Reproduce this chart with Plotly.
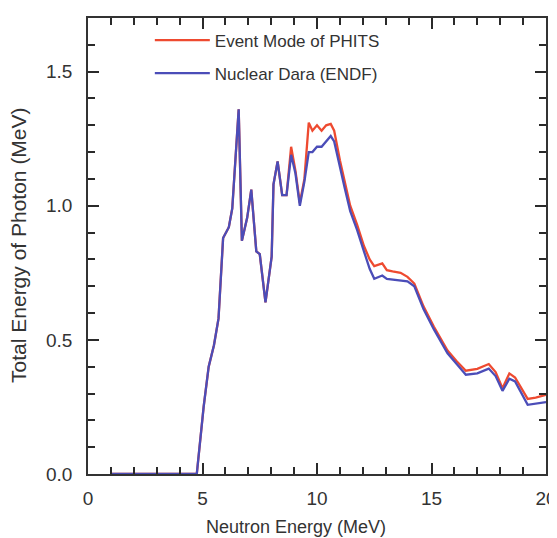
import plotly.graph_objects as go

energy = [1.0, 4.75, 5.05, 5.27, 5.5, 5.7, 5.9, 6.15, 6.3, 6.58, 6.72, 6.95, 7.13, 7.35, 7.5, 7.75,
          8.02, 8.1, 8.28, 8.48, 8.67, 8.87, 9.06, 9.25, 9.45, 9.64, 9.8, 10.0, 10.2, 10.4, 10.6,
          10.75, 11.0, 11.2, 11.45, 11.75, 12.05, 12.3, 12.5, 12.85, 13.05, 13.3, 13.65, 13.95,
          14.25, 14.65, 15.1, 15.7, 16.1, 16.5, 17.0, 17.5, 17.8, 18.1, 18.4, 18.65, 19.2, 19.55, 20.0]

phits = [0, 0, 0.25, 0.40, 0.48, 0.58, 0.88, 0.92, 0.99, 1.36, 0.87, 0.955, 1.06, 0.83, 0.82, 0.64,
         0.81, 1.08, 1.165, 1.04, 1.04, 1.22, 1.13, 1.01, 1.10, 1.31, 1.28, 1.30, 1.28, 1.30, 1.305,
         1.28, 1.17, 1.09, 1.00, 0.93, 0.85, 0.80, 0.775, 0.785, 0.76, 0.755, 0.75, 0.735,
         0.71, 0.625, 0.55, 0.46, 0.42, 0.385, 0.392, 0.41, 0.38, 0.32, 0.375, 0.36, 0.28, 0.285, 0.295]

endf = [0, 0, 0.25, 0.40, 0.48, 0.58, 0.88, 0.92, 0.99, 1.36, 0.87, 0.955, 1.06, 0.83, 0.82, 0.64,
        0.81, 1.08, 1.165, 1.04, 1.04, 1.19, 1.12, 1.00, 1.09, 1.20, 1.20, 1.22, 1.22, 1.24, 1.26,
        1.24, 1.14, 1.07, 0.98, 0.91, 0.83, 0.765, 0.728, 0.74, 0.727, 0.725, 0.72, 0.718,
        0.70, 0.615, 0.54, 0.45, 0.41, 0.37, 0.375, 0.393, 0.365, 0.31, 0.355, 0.345, 0.258, 0.262, 0.268]

x_ticks = [0, 5, 10, 15, 20]
y_ticks = [0.0, 0.5, 1.0, 1.5]
y_tick_labels = ["0.0", "0.5", "1.0", "1.5"]

font_family = "Liberation Sans, Arial, Helvetica, sans-serif"
text_color = "#333333"

fig = go.Figure()
fig.add_trace(go.Scatter(x=energy, y=phits, mode="lines", name="Event Mode of PHITS",
                         legendgroup="a", line=dict(color="#ee4a30", width=2.3)))
fig.add_trace(go.Scatter(x=energy, y=endf, mode="lines", name="Nuclear Dara (ENDF)",
                         legendgroup="b", line=dict(color="#4b4db8", width=2.3)))

axis_common = dict(
    showgrid=False, zeroline=False, showline=True, linecolor="#333333", linewidth=1.6,
    mirror="allticks", ticks="inside", ticklen=11, tickwidth=1.8, tickcolor="#2a2a2a",
    tickfont=dict(size=19, color=text_color, family=font_family),
    automargin=False, layer="above traces",
)

fig.update_layout(
    width=549, height=530,
    margin=dict(l=80, r=11, t=10, b=64),
    paper_bgcolor="white", plot_bgcolor="white",
    font=dict(family=font_family, color=text_color),
    showlegend=True,
    legend=dict(x=0.135, y=0.99, xanchor="left", yanchor="top", bgcolor="rgba(0,0,0,0)",
                itemwidth=55, tracegroupgap=8,
                font=dict(size=17, color=text_color, family=font_family)),
    xaxis=dict(range=[0, 20], tickvals=x_ticks, ticktext=[str(v) for v in x_ticks],
               ticklabelstandoff=6,
               minor=dict(dtick=1, ticks="inside", ticklen=7, tickcolor="#2a2a2a", tickwidth=1.5),
               **axis_common),
    yaxis=dict(range=[0, 1.7], tickvals=y_ticks, ticktext=y_tick_labels,
               ticklabelstandoff=10,
               minor=dict(dtick=0.1, ticks="inside", ticklen=7, tickcolor="#2a2a2a", tickwidth=1.5),
               **axis_common),
    annotations=[
        dict(text="Neutron Energy (MeV)", xref="paper", yref="paper", x=0.454, y=-0.116,
             xanchor="center", yanchor="middle", showarrow=False,
             font=dict(size=18, color=text_color, family=font_family)),
        dict(text="Total Energy of Photon (MeV)", xref="paper", yref="paper", x=-0.152, y=0.501,
             xanchor="center", yanchor="middle", textangle=-90, showarrow=False,
             font=dict(size=21, color=text_color, family=font_family)),
    ],
)

fig.write_html("out.html")
